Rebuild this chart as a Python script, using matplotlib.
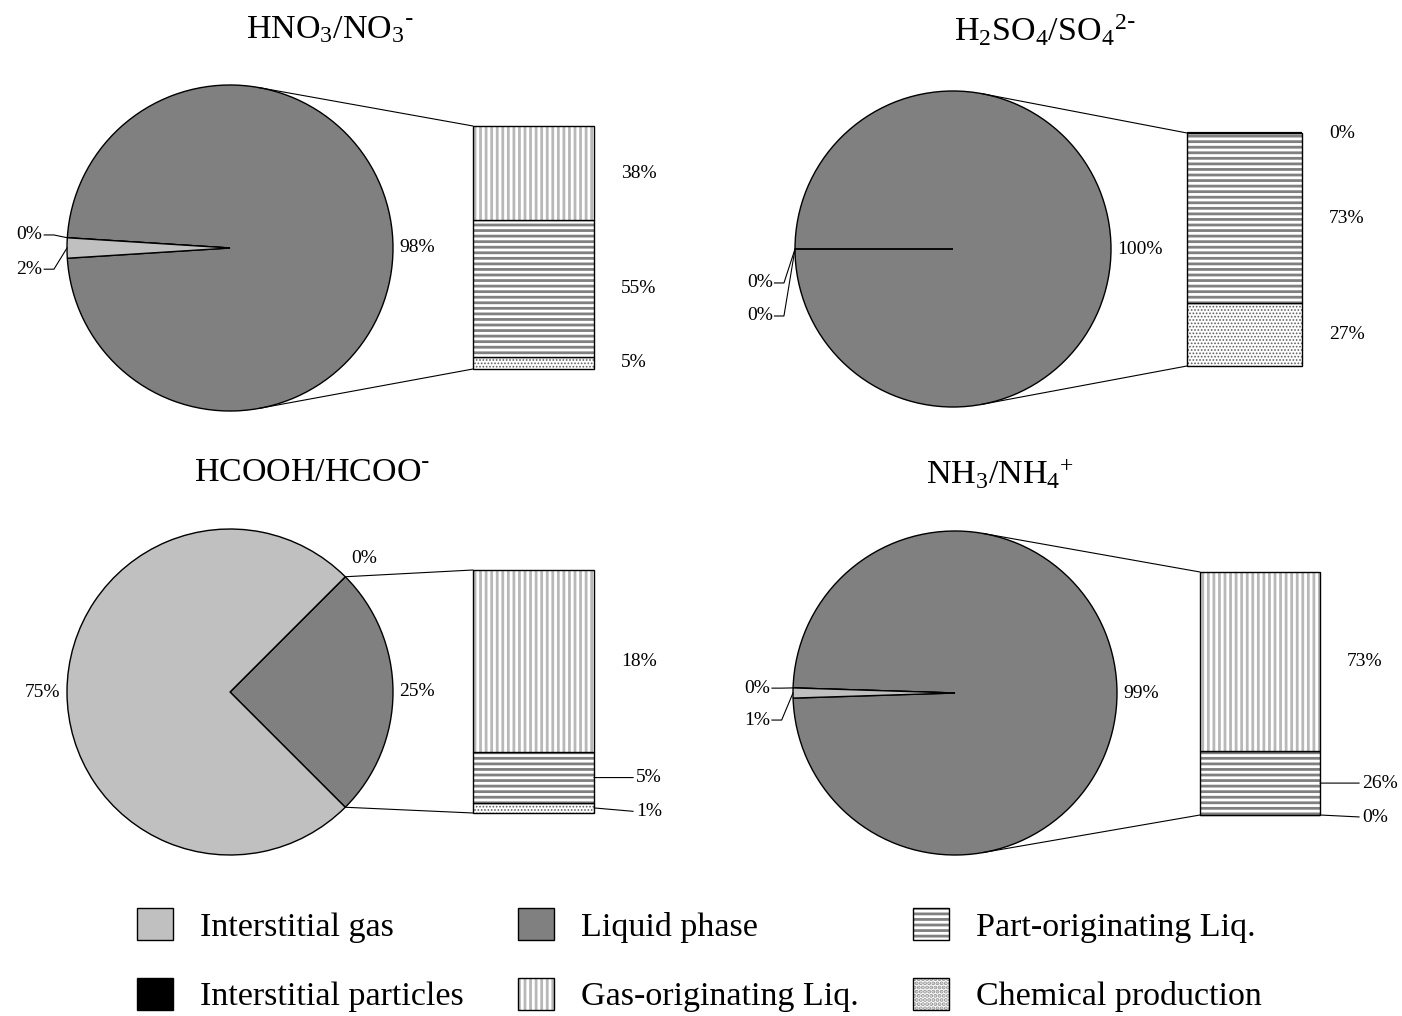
import numpy as np
import matplotlib
matplotlib.use("Agg")
import matplotlib.pyplot as plt
from matplotlib.patches import Patch, ConnectionPatch

plt.rcParams['font.family'] = 'Liberation Serif'
plt.rcParams['mathtext.default'] = 'regular'
plt.rcParams['hatch.linewidth'] = 2.0

# Partitioning of each species: pie = interstitial gas / particles / liquid,
# bar = breakdown of the liquid phase.
titles = [r'HNO$_3$/NO$_3$$^{\text{-}}$', r'H$_2$SO$_4$/SO$_4$$^{2\text{-}}$',
          r'HCOOH/HCOO$^{\text{-}}$', r'NH$_3$/NH$_4$$^{+}$']
liquid = [98, 100, 25, 99]
particles = [0, 0, 0, 0]
gas = [2, 0, 75, 1]
gas_orig = [38, 0, 18, 73]
part_orig = [55, 73, 5, 26]
chem_prod = [5, 27, 1, 0]

legend_labels = ['Interstitial gas', 'Interstitial particles', 'Liquid phase',
                 'Gas-originating Liq.', 'Part-originating Liq.', 'Chemical production']

W, H = 1402, 1016
C_GAS, C_LIQ, C_PART = '#c0c0c0', '#808080', 'black'
# (hatch, hatch colour, hatch width) for gas-orig, part-orig, chemical production
STYLE_GO = ('|||', '#b8b8b8', 2.0)
STYLE_PO = ('---', '#808080', 2.0)
STYLE_CH = ('.....', '#606060', 0.8)
FS = 14

# panel layout in pixels: pie centre, radius, bar box (x0, y0, x1, y1), title centre
panels = [
    dict(c=(230, 248), r=163, bar=(473, 126, 594, 369), title=(330, 30), lead=False,
         small=[(-1.15, 0.08), (-1.15, -0.13)]),
    dict(c=(953, 249), r=158, bar=(1187, 133, 1302, 366), title=(1045, 30), lead=False,
         small=[(-1.14, -0.215), (-1.14, -0.424)]),
    dict(c=(230, 692), r=163, bar=(473, 570, 594, 813), title=(312, 473), lead=True,
         small=[None, None]),
    dict(c=(955, 693), r=162, bar=(1200, 572, 1320, 815), title=(1000, 473), lead=True,
         small=[(-1.14, 0.03), (-1.14, -0.167)]),
]

fig = plt.figure(figsize=(W / 100, H / 100), dpi=100)


def px_box(x0, y0, x1, y1):
    return [x0 / W, 1 - y1 / H, (x1 - x0) / W, (y1 - y0) / H]


def hatched_bar(ax, v, bottom, style, **kw):
    hatch, hc, hw = style
    with plt.rc_context({'hatch.linewidth': hw}):
        ax.bar(0.5, v, bottom=bottom, width=1, color='white', edgecolor=hc,
               hatch=hatch, linewidth=0, **kw)


for i, p in enumerate(panels):
    cx, cy = p['c']
    r = p['r']
    axp = fig.add_axes(px_box(cx - r, cy - r, cx + r, cy + r))
    vals = [liquid[i], particles[i], gas[i]]
    tot = sum(vals)
    start = -liquid[i] / tot * 180
    wedges, _ = axp.pie(vals, startangle=start, counterclock=True,
                        colors=[C_LIQ, C_PART, C_GAS],
                        wedgeprops=dict(edgecolor='black', linewidth=1.0))
    axp.set_xlim(-1, 1)
    axp.set_ylim(-1, 1)
    axp.axis('off')

    # percentage labels on the pie
    for j, (w, v) in enumerate(zip(wedges, vals)):
        mid = np.deg2rad((w.theta1 + w.theta2) / 2)
        txt = f'{v:.0f}%'
        if v >= 10:
            x, y = 1.04 * np.cos(mid), 1.04 * np.sin(mid)
            axp.text(x, y, txt, ha='left' if x > 0 else 'right', va='center', fontsize=FS)
            continue
        pos = p['small'][j - 1]
        if pos is None:
            axp.text(1.16 * np.cos(mid), 1.16 * np.sin(mid), txt, ha='center',
                     va='center', fontsize=FS)
            continue
        tx, ty = pos
        ang = np.deg2rad(w.theta2) if v == 0 else mid
        ex, ey = np.cos(ang), np.sin(ang)
        axp.text(tx, ty, txt, ha='right', va='center', fontsize=FS)
        axp.plot([tx + 0.01, tx + 0.07, ex], [ty, ty, ey], color='black', lw=0.8,
                 clip_on=False)

    # stacked bar for the liquid phase
    x0, y0, x1, y1 = p['bar']
    axb = fig.add_axes(px_box(x0, y0, x1, y1))
    segs = [(chem_prod[i], STYLE_CH), (part_orig[i], STYLE_PO), (gas_orig[i], STYLE_GO)]
    btot = sum(s[0] for s in segs)
    axb.set_xlim(0, 1)
    axb.set_ylim(0, btot)
    axb.axis('off')
    bottom = 0
    centres = []
    for v, style in segs:
        hatched_bar(axb, v, bottom, style)
        axb.bar(0.5, v, bottom=bottom, width=1, fill=False, edgecolor='black',
                linewidth=1.0 if v > 0 else 1.6, clip_on=False)
        centres.append(bottom + v / 2)
        bottom += v

    unit = btot / (y1 - y0)   # data units per pixel
    if p['lead']:
        ys = list(centres)
        for k in range(len(ys) - 1):
            if ys[k + 1] - ys[k] < 34 * unit:
                ys[k] = ys[k + 1] - 34 * unit
        for k, (v, _) in enumerate(segs):
            if k == len(segs) - 1:
                axb.annotate(f'{v}%', (1, ys[k]), xytext=(27 * 0.72, 0),
                             textcoords='offset points', ha='left', va='center',
                             fontsize=FS)
            else:
                axb.annotate(f'{v}%', (1, centres[k]), xytext=(1 + 42 / (x1 - x0), ys[k]),
                             ha='left', va='center', fontsize=FS,
                             arrowprops=dict(arrowstyle='-', lw=0.8, shrinkA=0, shrinkB=0,
                                             relpos=(0, 0.5)))
    else:
        for k, (v, _) in enumerate(segs):
            axb.annotate(f'{v}%', (1, centres[k]), xytext=(27 * 0.72, 0),
                         textcoords='offset points', ha='left', va='center', fontsize=FS)

    # connector lines from the pie to the bar corners
    inv = axp.transData.inverted()
    for corner, sign in (((0, btot), 1), ((0, 0), -1)):
        P = inv.transform(axb.transData.transform(corner))
        d = np.hypot(*P)
        phi = np.arctan2(P[1], P[0])
        tang = phi + sign * np.arccos(1 / d)
        edge = np.deg2rad(liquid[i] / tot * 180) * sign
        a = min(tang, edge) if sign > 0 else max(tang, edge)
        con = ConnectionPatch((np.cos(a), np.sin(a)), corner, coordsA=axp.transData,
                              coordsB=axb.transData, color='black', lw=0.8)
        fig.add_artist(con)

    tx, ty = p['title']
    fig.text(tx / W, 1 - ty / H, titles[i], ha='center', va='center', fontsize=24.5)


# legend
def hatched(style, colour=None, hatch=None):
    with plt.rc_context({'hatch.linewidth': style[2]}):
        fill = Patch(facecolor='white', edgecolor=colour or style[1],
                     hatch=hatch or style[0], lw=0)
    return (fill, Patch(fill=False, edgecolor='black', lw=1.0))


handles = [Patch(facecolor=C_GAS, edgecolor='black', lw=1.0),
           Patch(facecolor=C_PART, edgecolor='black', lw=1.0),
           Patch(facecolor=C_LIQ, edgecolor='black', lw=1.0),
           hatched(STYLE_GO), hatched(STYLE_PO), hatched(STYLE_CH, '#909090', '....')]
fig.legend(handles, legend_labels, ncol=3, loc='upper left',
           bbox_to_anchor=(137 / W, 1 - 908 / H), frameon=False, fontsize=24.5,
           handlelength=1.06, handleheight=1.08, handletextpad=0.79,
           columnspacing=1.6, labelspacing=1.03, borderpad=0, borderaxespad=0)

fig.savefig('out.png', dpi=100)
